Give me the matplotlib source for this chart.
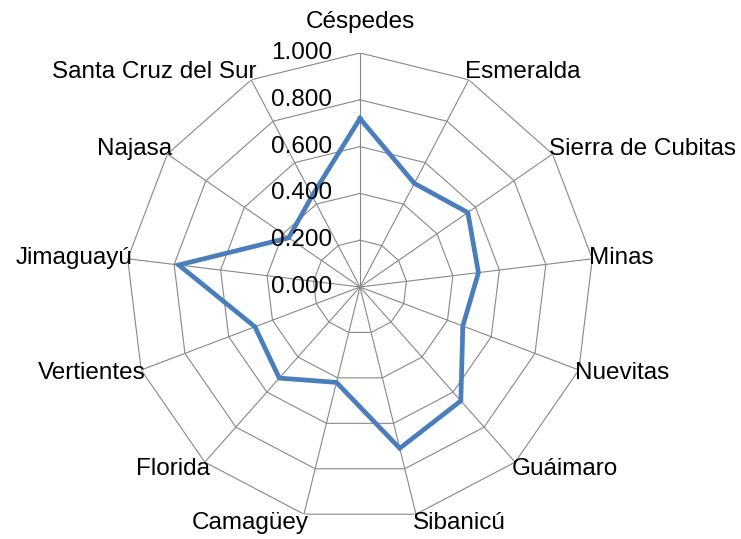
import numpy as np
import matplotlib
matplotlib.use("Agg")
import matplotlib.pyplot as plt

plt.rcParams['font.family'] = 'Liberation Sans'
plt.rcParams['font.size'] = 17.5

# data
categories = ["Céspedes", "Esmeralda", "Sierra de Cubitas", "Minas", "Nuevitas",
              "Guáimaro", "Sibanicú", "Camagüey", "Florida", "Vertientes",
              "Jimaguayú", "Najasa", "Santa Cruz del Sur"]
values = [0.72, 0.50, 0.56, 0.51, 0.47, 0.65, 0.71, 0.42, 0.52, 0.48, 0.78, 0.37, 0.44]
ring_levels = [0.0, 0.2, 0.4, 0.6, 0.8, 1.0]
ring_labels = ["0.000", "0.200", "0.400", "0.600", "0.800", "1.000"]

n = len(categories)
theta = np.arange(n) * 2 * np.pi / n
theta_closed = np.append(theta, theta[0])

fig = plt.figure(figsize=(7.41, 5.39), dpi=100)
ax = fig.add_axes([0.170, 0.0334, 0.6316, 0.8683], projection='polar')
ax.set_theta_zero_location('N')
ax.set_theta_direction(-1)
ax.set_ylim(0, 1)
ax.axis('off')

grid_color = '#888888'
# polygon rings
for lev in ring_levels[1:]:
    ax.plot(theta_closed, [lev] * (n + 1), color=grid_color, lw=0.8, zorder=1)
# spokes
for t in theta:
    ax.plot([t, t], [0, 1], color=grid_color, lw=0.8, zorder=1)

# data line
ax.plot(theta_closed, values + values[:1], color='#4a7ebb', lw=3.4, zorder=3,
        solid_joinstyle='miter')

# radial value labels
for lev, lab in zip(ring_levels, ring_labels):
    ax.annotate(lab, xy=(0, lev), xytext=(-20, 0), textcoords='offset points',
                ha='right', va='center', annotation_clip=False, zorder=4)

# category labels
for t, name in zip(theta, categories):
    s, c = np.sin(t), np.cos(t)
    if abs(s) < 0.05:
        ha, dx, dy = 'center', 0, 22
    elif s > 0:
        ha, dx, dy = 'left', -2.5, 6.5 * c
    else:
        ha, dx, dy = 'right', 3.5, 6.5 * c
    ax.annotate(name, xy=(t, 1.0), xytext=(dx, dy), textcoords='offset points',
                ha=ha, va='center', annotation_clip=False)

fig.savefig('out.png', dpi=100)
